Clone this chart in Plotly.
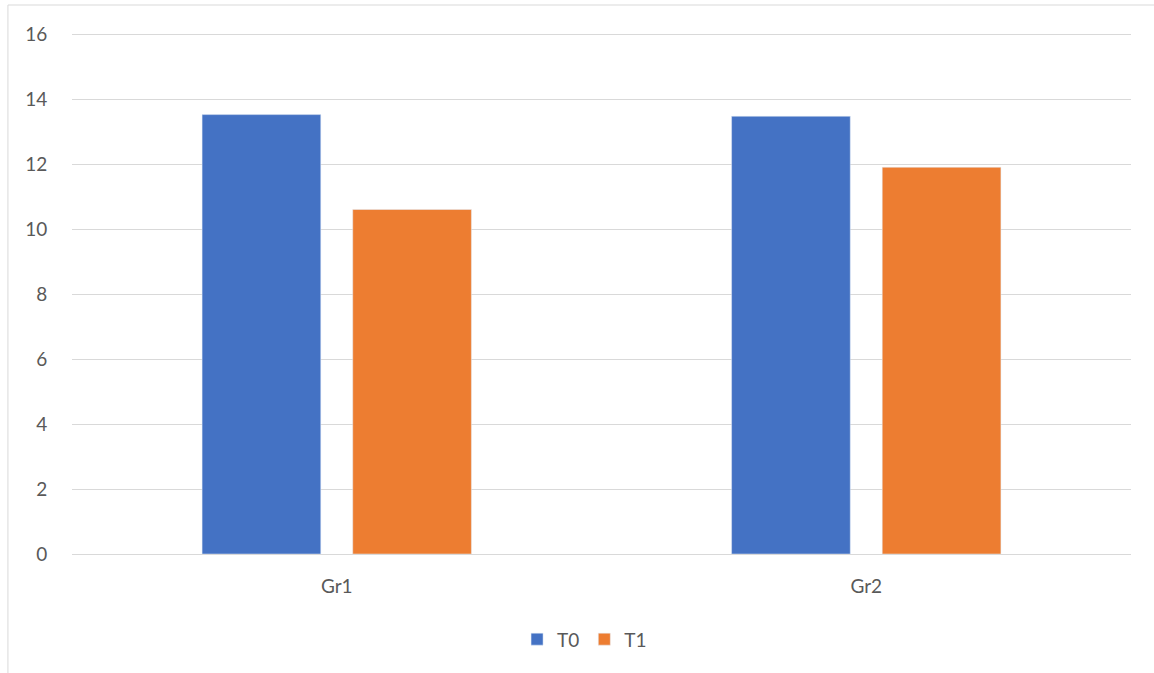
import plotly.graph_objects as go

categories = ["Gr1", "Gr2"]
t0_values = [13.52, 13.47]
t1_values = [10.6, 11.9]
y_ticks = [0, 2, 4, 6, 8, 10, 12, 14, 16]

font_family = "Lato"
gray = "#595959"

fig = go.Figure()
fig.add_trace(go.Bar(name="T0", x=categories, y=t0_values, marker_color="#4472C4"))
fig.add_trace(go.Bar(name="T1", x=categories, y=t1_values, marker_color="#ED7D31"))

# plot area: y=0 at 554px, 32.5 px per unit; range to 16.4 -> top at 21px
fig.update_layout(
    width=1154, height=673,
    margin=dict(l=72, r=23, t=21, b=119),
    paper_bgcolor="white", plot_bgcolor="white",
    barmode="group", bargap=0.431, bargroupgap=0.212,
    font=dict(family=font_family, size=19, color=gray),
    showlegend=True,
    legend=dict(orientation="h", x=0.484, xanchor="center", y=-0.16, yanchor="middle",
                font=dict(family=font_family, size=19, color=gray), itemwidth=30, traceorder="normal"),
    shapes=[dict(type="rect", xref="paper", yref="paper", x0=-0.0605, x1=2, y0=-1, y1=1.03,
                 line=dict(color="#D9D9D9", width=1), fillcolor="rgba(0,0,0,0)", layer="below")],
)
fig.update_yaxes(range=[0, 16.4], tickvals=y_ticks, showgrid=True, gridcolor="#D9D9D9", gridwidth=1,
                 zeroline=False, showline=False, ticks="outside", ticklen=20, tickcolor="rgba(0,0,0,0)",
                 tickfont=dict(family=font_family, size=19, color=gray))
fig.update_xaxes(showline=True, linecolor="#D9D9D9", linewidth=1, showgrid=False,
                 ticks="outside", ticklen=15, tickcolor="rgba(0,0,0,0)",
                 tickfont=dict(family=font_family, size=19, color=gray))

fig.write_html("out.html")
